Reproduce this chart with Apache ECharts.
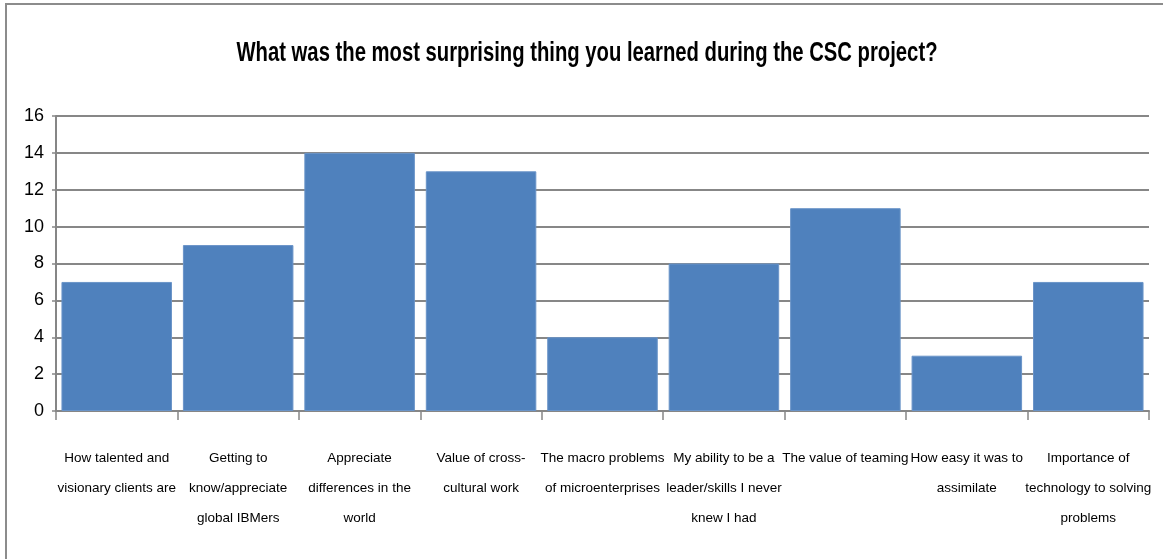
<!DOCTYPE html>
<html><head><meta charset="utf-8">
<script src="https://cdn.jsdelivr.net/npm/echarts@6/dist/echarts.min.js"></script>
<style>html,body{margin:0;padding:0;background:#fff}#c{width:1163px;height:559px}</style>
</head><body><div id="c"></div>
<script>
const titleText = 'What was the most surprising thing you learned during the CSC project?';
const categories = [
  'How talented and\nvisionary clients are',
  'Getting to\nknow/appreciate\nglobal IBMers',
  'Appreciate\ndifferences in the\nworld',
  'Value of cross-\ncultural work',
  'The macro problems\nof microenterprises',
  'My ability to be a\nleader/skills I never\nknew I had',
  'The value of teaming',
  'How easy it was to\nassimilate',
  'Importance of\ntechnology to solving\nproblems'
];
const values = [7, 9, 14, 13, 4, 8, 11, 3, 7];
const yMin = 0, yMax = 16, yStep = 2;

const FONT = '"Liberation Sans", Arial, sans-serif';
// condensed look for the title: measure and squeeze horizontally to the reference width
const titleFont = 'bold 28px ' + FONT;
const cv = document.createElement('canvas').getContext('2d');
cv.font = titleFont;
const titleW = cv.measureText(titleText).width;
const titleScale = Math.min(1, 701 / titleW);

const chart = echarts.init(document.getElementById('c'), null, {renderer: 'canvas'});
chart.setOption({
  animation: false,
  backgroundColor: '#fff',
  graphic: [{
    type: 'rect', silent: true,
    shape: {x: 6, y: 4, width: 1200, height: 600},
    style: {fill: 'none', stroke: '#8c8c8c', lineWidth: 2}
  }, {
    type: 'text', silent: true,
    x: 587, y: 53, scaleX: titleScale, scaleY: 1,
    style: {text: titleText, font: titleFont, fill: '#000', align: 'center', verticalAlign: 'middle'}
  }],
  grid: {left: 56, right: 14, top: 116, bottom: 148, containLabel: false},
  xAxis: {
    type: 'category', data: categories,
    axisLine: {show: true, lineStyle: {color: '#868686', width: 2}},
    axisTick: {show: true, length: 9, alignWithLabel: false, lineStyle: {color: '#868686', width: 1.5}},
    axisLabel: {interval: 0, margin: 32, fontFamily: FONT, fontSize: 13.5, lineHeight: 30, color: '#000', verticalAlign: 'top'},
    splitLine: {show: false}
  },
  yAxis: {
    type: 'value', min: yMin, max: yMax, interval: yStep,
    axisLine: {show: true, lineStyle: {color: '#868686', width: 2}},
    axisTick: {show: true, length: 4, lineStyle: {color: '#868686', width: 1.5}},
    axisLabel: {margin: 12, fontFamily: FONT, fontSize: 18, color: '#000'},
    splitLine: {show: true, lineStyle: {color: '#878787', width: 2}}
  },
  series: [{
    type: 'bar', data: values, barCategoryGap: '9%',
    itemStyle: {color: '#4F81BD', borderColor: '#6a94c8', borderWidth: 1}
  }]
});
</script></body></html>
